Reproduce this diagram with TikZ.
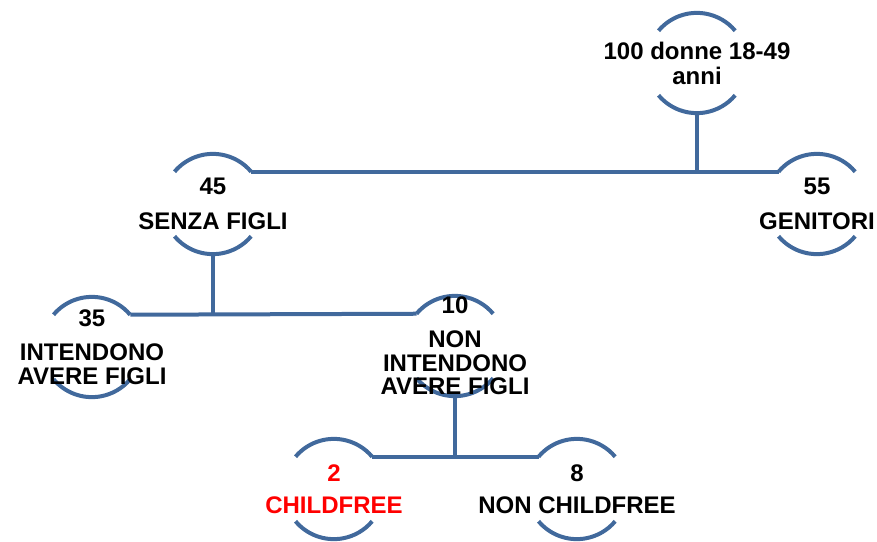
\documentclass[tikz,border=0pt]{standalone}
\usepackage{fontspec}
\setmainfont{Liberation Sans}
\definecolor{treeblue}{HTML}{41699C}
\definecolor{cfred}{HTML}{FF0000}
\begin{document}
\begin{tikzpicture}[x=1pt,y=-1pt,
  ring/.style={circle,minimum size=100pt,inner sep=0pt,draw=none},
  lbl/.style={align=center,font=\fontsize{24}{23.5}\selectfont\bfseries,inner sep=0pt},
  conn/.style={draw=treeblue,line width=4pt},
  arcline/.style={draw=treeblue,line width=4pt}]
\useasboundingbox (0,0) rectangle (877,541);
% circles
\node[ring] (top) at (697,63) {};
\node[ring] (senza) at (213,204) {};
\node[ring] (gen) at (817,204) {};
\node[ring] (intend) at (92,347) {};
\node[ring] (nonint) at (455,346) {};
\node[ring] (cf) at (334,489) {};
\node[ring] (ncf) at (577,489) {};
% arcs
\foreach \n in {top,senza,gen,intend,nonint,cf,ncf}{
  \draw[arcline] (\n.140) arc[start angle=140,end angle=40,radius=50pt];
  \draw[arcline] (\n.-140) arc[start angle=-140,end angle=-40,radius=50pt];
}
% connectors
\draw[conn] (senza.40) -- (gen.140);
\draw[conn] (top.south) -- (top.south |- gen.140);
\draw[conn] (intend.40) -- (nonint.140);
\draw[conn] (senza.south) -- (senza.south |- nonint.140);
\draw[conn] (cf.40) -- (ncf.140);
\draw[conn] (nonint.south) -- (nonint.south |- ncf.140);
% labels
\node[lbl] (ttop) at (top) {100 donne 18-49\\[1.5pt]anni};
\node[lbl] (tsenza) at (senza) {45\\[11pt]SENZA FIGLI};
\node[lbl] (tgen) at (gen) {55\\[11pt]GENITORI};
\node[lbl] (tintend) at (intend) {35\\[11pt]INTENDONO\\AVERE FIGLI};
\node[lbl] (tnonint) at (nonint) {10\\[10.5pt]NON\\INTENDONO\\AVERE FIGLI};
\node[lbl,text=cfred] (tcf) at (cf) {2\\[9pt]CHILDFREE};
\node[lbl] (tncf) at (ncf) {8\\[9pt]NON CHILDFREE};
\end{tikzpicture}
\end{document}
